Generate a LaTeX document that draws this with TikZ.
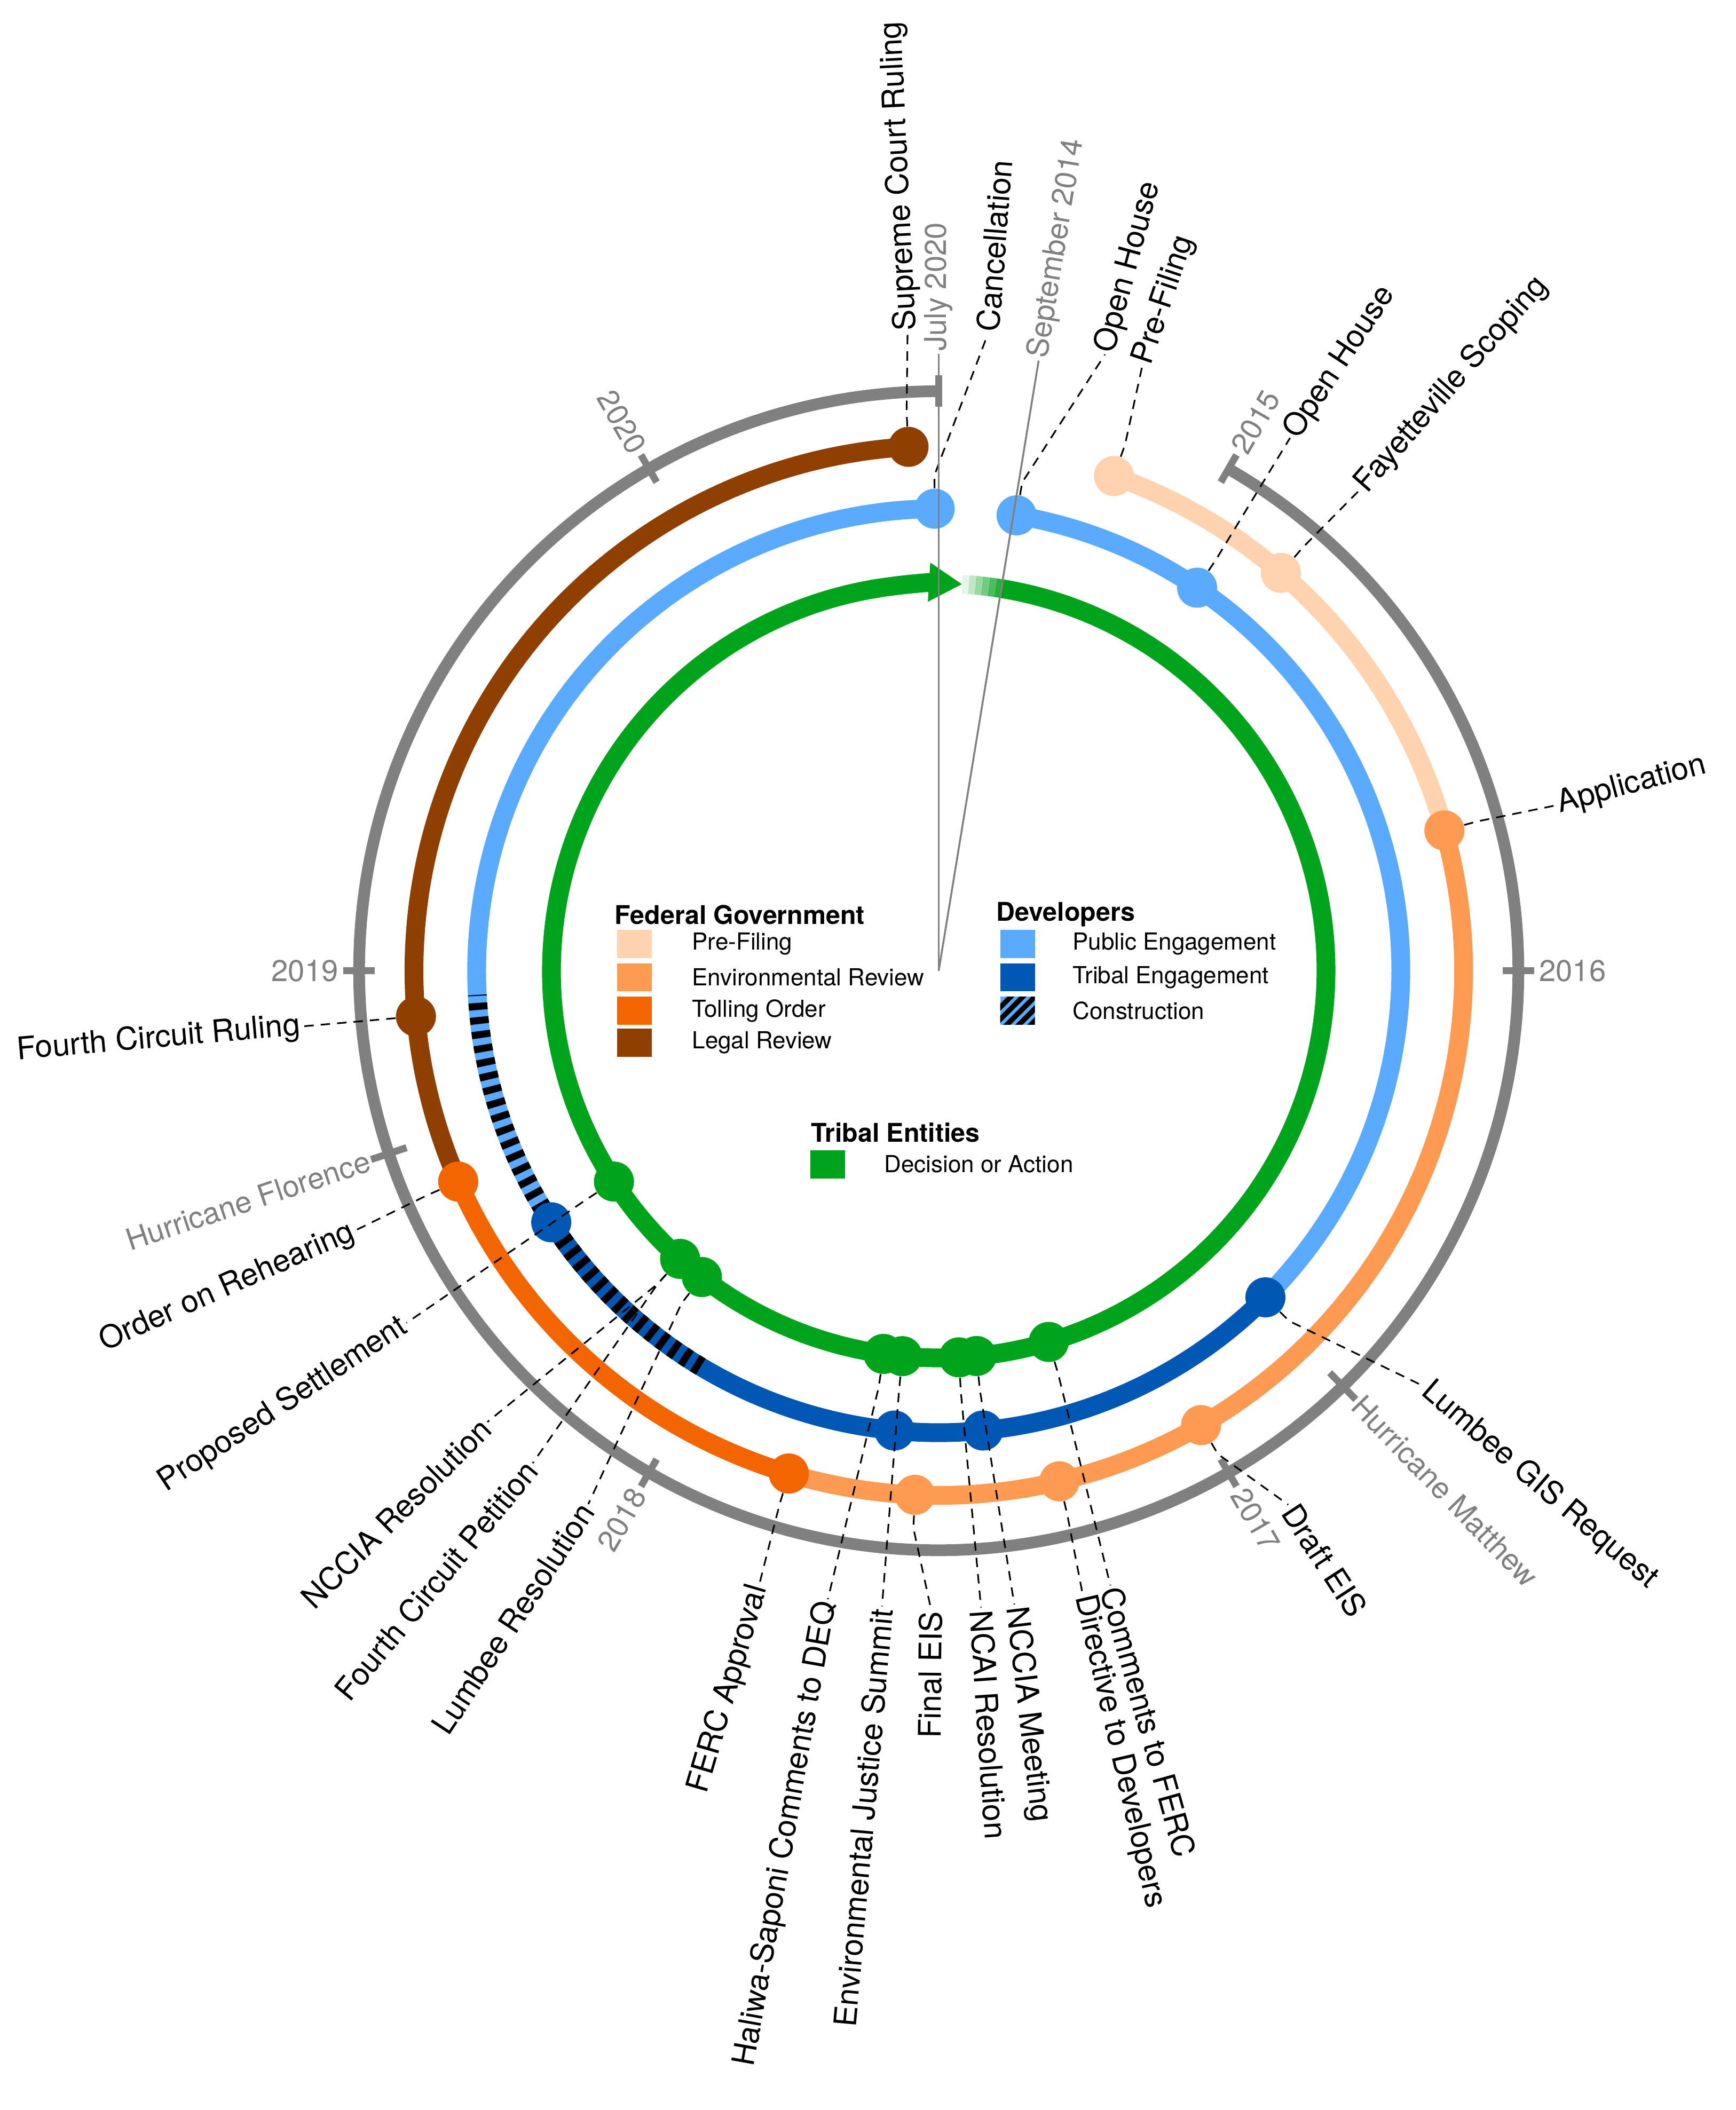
\documentclass[tikz,border=0pt]{standalone}
\usepackage{fontspec}
\setmainfont{TeX Gyre Heros}
\usepackage{tikz}
\usetikzlibrary{positioning,arrows.meta}

\definecolor{cPre}{HTML}{FFD2B0}
\definecolor{cEnv}{HTML}{FF9A52}
\definecolor{cToll}{HTML}{F26500}
\definecolor{cLegal}{HTML}{8F3F00}
\definecolor{cPub}{HTML}{5AAAFF}
\definecolor{cTrib}{HTML}{0058B4}
\definecolor{cAct}{HTML}{00A31C}
\definecolor{cGrey}{HTML}{808080}

\begin{document}
\begin{tikzpicture}[
    ring/.style={line width=8pt},
    frame/.style={line width=5pt, cGrey},
    tick/.style={line width=3pt, cGrey},
    dot/.style={circle, inner sep=0pt, minimum size=0.6cm},
    leader/.style={line width=0.7pt, dash pattern=on 4pt off 3pt},
    guide/.style={line width=0.8pt, cGrey},
    evlabel/.style={font=\fontsize{13.3}{15}\selectfont, inner sep=1pt},
    yrlabel/.style={font=\fontsize{12.8}{15}\selectfont, text=cGrey, inner sep=1pt},
    swatch/.style={rectangle, minimum width=0.52cm, minimum height=0.42cm, inner sep=0pt},
    keytext/.style={font=\fontsize{10}{12}\selectfont, anchor=west, inner sep=0pt},
    keyhead/.style={font=\bfseries\fontsize{11}{13}\selectfont, anchor=west, inner sep=0pt}
]
\useasboundingbox (-14.06,-17.066) rectangle (11.94,14.54);
\coordinate (ctr) at (0,0);

% Outer time frame
\draw[frame] (60:8.68) arc[start angle=60, end angle=-270, radius=8.68];
\foreach \t in {30,90,150,210,270,330,360}
  \draw[tick] ({90-\t}:8.45) -- ({90-\t}:8.92);
\foreach \t in {135.8,251.6}
  \draw[tick] ({90-\t}:8.4) -- ({90-\t}:8.96);

% Federal government
\draw[ring, cPre] ({90-19.5}:7.86) arc[start angle=90-19.5, end angle=90-74.5, radius=7.86];
\draw[ring, cEnv] ({90-74.5}:7.86) arc[start angle=90-74.5, end angle=90-196.6, radius=7.86];
\draw[ring, cToll] ({90-196.6}:7.86) arc[start angle=90-196.6, end angle=90-246.3, radius=7.86];
\draw[ring, cLegal] ({90-246.3}:7.86) arc[start angle=90-246.3, end angle=90-356.7, radius=7.86];

% Developers
\draw[ring, cPub] ({90-9.7}:6.92) arc[start angle=90-9.7, end angle=90-135, radius=6.92];
\draw[ring, cTrib] ({90-135}:6.92) arc[start angle=90-135, end angle=90-237, radius=6.92];
\draw[ring, cPub] ({90-237}:6.92) arc[start angle=90-237, end angle=90-359.5, radius=6.92];
\draw[ring, black, dash pattern=on 3pt off 3pt] ({90-211}:6.92) arc[start angle=90-211, end angle=90-267, radius=6.92];

% Tribal entities
\foreach \a/\o in {3.5/0.1,4.5/0.25,5.5/0.4,6.5/0.55,7.5/0.7,8.5/0.85}
  \draw[ring, cAct, draw opacity=\o] ({90-\a}:5.8) arc[start angle=90-\a, end angle=90-\a-1.05, radius=5.8];
\draw[ring, cAct] ({90-9.5}:5.8) arc[start angle=90-9.5, end angle=90-351, radius=5.8];
\draw[ring, cAct, -{Triangle[length=0.5cm, width=0.55cm]}] ({90-350}:5.8) arc[start angle=90-350, end angle=90-363.5, radius=5.8];

% Event dots
\foreach \d/\r/\c/\nm in {40.7/7.86/cPre/fay, 19.5/7.86/cPre/pre, 74.5/7.86/cEnv/app,
    150/7.86/cEnv/deis, 166.7/7.86/cEnv/dir, 182.6/7.86/cEnv/feis, 196.6/7.86/cToll/ferc,
    246.3/7.86/cToll/reh, 265/7.86/cLegal/fcr, 356.7/7.86/cLegal/sup,
    9.7/6.92/cPub/oha, 34/6.92/cPub/ohb, 135/6.92/cTrib/gis, 359.5/6.92/cPub/can,
    174.5/6.92/cTrib/tma, 185.5/6.92/cTrib/tmb, 237/6.92/cTrib/tmc,
    163.5/5.8/cAct/cmf, 174.4/5.8/cAct/nccm, 177/5.8/cAct/ncai, 185.4/5.8/cAct/ejs,
    188.2/5.8/cAct/hal, 217.7/5.8/cAct/lum, 221.9/5.8/cAct/ncr, 237/5.8/cAct/set}
  \node[dot, fill=\c] (d-\nm) at ({90-\d}:\r) {};

% Event labels, right half
\foreach \d/\r/\l/\nm/\txt in {356.7/7.86/-2.8/sup/Supreme Court Ruling, 359.5/6.92/4.4/can/Cancellation,
    9.7/6.92/15.1/oha/Open House, 19.5/7.86/18.6/pre/Pre-Filing, 34/6.92/33.4/ohb/Open House,
    40.7/7.86/41.2/fay/Fayetteville Scoping, 74.5/7.86/75/app/Application,
    135/6.92/130.6/gis/Lumbee GIS Request, 150/7.86/146.8/deis/Draft EIS,
    163.5/5.8/164.4/cmf/Comments to FERC, 166.7/7.86/167/dir/Directive to Developers,
    174.4/5.8/173.2/nccm/NCCIA Meeting, 177/5.8/176.2/ncai/NCAI Resolution}
{
  \node[evlabel, anchor=west, rotate={90-\l}] (l-\nm) at ({90-\l}:9.56) {\txt};
  \draw[leader] (d-\nm) -- ({90-\d}:{\r+0.5}) -- (l-\nm.west);
}

% Event labels, left half
\foreach \d/\r/\l/\nm/\txt in {182.6/7.86/180.7/feis/Final EIS, 185.4/5.8/185.1/ejs/Environmental Justice Summit,
    188.2/5.8/190/hal/Haliwa-Saponi Comments to DEQ, 196.6/7.86/196.3/ferc/FERC Approval,
    217.7/5.8/213.3/lum/Lumbee Resolution, 221.9/5.8/219.5/fcp/Fourth Circuit Petition,
    221.9/5.8/225/ncr/NCCIA Resolution, 237/5.8/236.5/set/Proposed Settlement,
    246.3/7.86/246/reh/Order on Rehearing, 265/7.86/265/fcr/Fourth Circuit Ruling}
{
  \node[evlabel, anchor=east, rotate={270-\l}] (l-\nm) at ({90-\l}:9.56) {\txt};
}
\foreach \d/\r/\l/\nm/\dn in {182.6/7.86/180.7/feis/feis, 185.4/5.8/185.1/ejs/ejs,
    188.2/5.8/190/hal/hal, 196.6/7.86/196.3/ferc/ferc, 217.7/5.8/213.3/lum/lum,
    221.9/5.8/219.5/fcp/ncr, 221.9/5.8/225/ncr/ncr, 237/5.8/236.5/set/set,
    246.3/7.86/246/reh/reh, 265/7.86/265/fcr/fcr}
  \draw[leader] (d-\dn) -- ({90-\d}:{\r+0.5}) -- (l-\nm.east);

% Years and markers
\foreach \t/\nm/\txt in {30/y15/2015, 90/y16/2016, 150/y17/2017, 135.8/hm/Hurricane Matthew}
  \node[yrlabel, anchor=west, rotate={90-\t}] (\nm) at ({90-\t}:8.95) {\txt};
\foreach \t/\nm/\txt in {210/y18/2018, 270/y19/2019, 330/y20/2020, 251.6/hf/Hurricane Florence}
  \node[yrlabel, anchor=east, rotate={270-\t}] (\nm) at ({90-\t}:8.95) {\txt};
\node[yrlabel, anchor=west, rotate=90] (jul) at (90:9.24) {July 2020};
\node[yrlabel, anchor=west, rotate=80.7] (sep) at ({90-9.3}:9.26) {September 2014};
\draw[guide] (ctr) -- (jul.west);
\draw[guide] (ctr) -- (sep.west);

% Key: federal government
\node[keyhead] (kfed) at (-4.86,0.84) {Federal Government};
\foreach \y/\c/\txt/\nm in {0.40/cPre/Pre-Filing/kpre, -0.10/cEnv/Environmental Review/kenv,
    -0.60/cToll/Tolling Order/ktol, -1.08/cLegal/Legal Review/kleg}
{
  \node[swatch, fill=\c] (\nm) at (-4.56,\y) {};
  \node[keytext] (\nm-t) at (-3.70,\y) {\txt};
}

% Key: developers
\node[keyhead] (kdev) at (0.86,0.84) {Developers};
\node[swatch, fill=cPub] (kpub) at (1.18,0.40) {};
\node[keytext] (kpub-t) at (2.0,0.40) {Public Engagement};
\node[swatch, fill=cTrib] (ktrb) at (1.18,-0.10) {};
\node[keytext] (ktrb-t) at (2.0,-0.10) {Tribal Engagement};
\begin{scope}
  \clip (0.92,-0.81) rectangle (1.44,-0.39);
  \fill[cPub] (0.92,-0.81) rectangle (1.44,-0.39);
  \foreach \x in {0.62,0.80,...,1.45}
    \draw[line width=2.2pt, black] (\x,-0.85) -- ++(0.5,0.5);
\end{scope}
\node[swatch] (kcon) at (1.18,-0.60) {};
\node[keytext] (kcon-t) at (2.0,-0.60) {Construction};

% Key: tribal entities
\node[keyhead] (ktri) at (-1.92,-2.42) {Tribal Entities};
\node[swatch, fill=cAct] (kact) at (-1.66,-2.90) {};
\node[keytext] (kact-t) at (-0.82,-2.90) {Decision or Action};

\end{tikzpicture}
\end{document}
